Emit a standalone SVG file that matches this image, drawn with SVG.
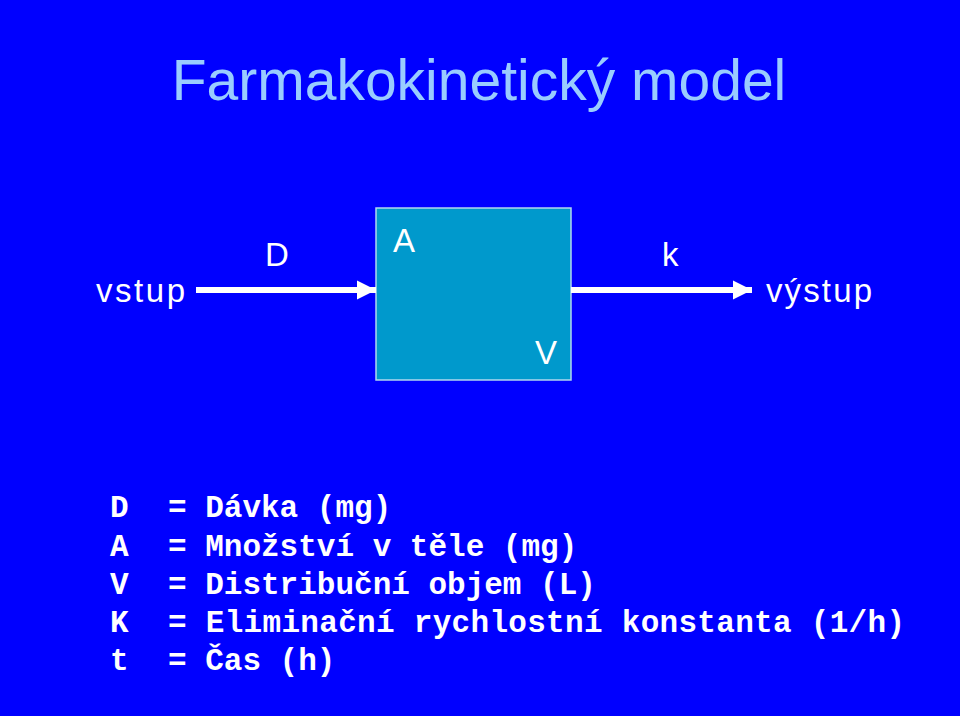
<svg xmlns="http://www.w3.org/2000/svg" width="960" height="716" viewBox="0 0 960 716">
<style>
.s{font-family:"Liberation Sans",Arial,sans-serif;fill:#fff;font-size:33px}
.m{font-family:"Liberation Mono","Courier New",monospace;font-weight:bold;fill:#fff;font-size:31px}
</style>
<defs><marker id="ah" markerWidth="3.2" markerHeight="3.2" refX="6" refY="3" orient="auto" markerUnits="strokeWidth" viewBox="0 0 6 6"><path d="M0,0L6,3L0,6z" fill="#fff"/></marker></defs>
<rect width="960" height="716" fill="#0000ff"/>
<text x="479" y="100" text-anchor="middle" font-family="Liberation Sans,Arial,sans-serif" font-size="57" fill="#99ccff">Farmakokinetický model</text>
<g id="box"><rect x="376" y="208" width="195" height="172" fill="#0099cc" stroke="#b0d8f0" stroke-width="1.5"/>
<text class="s" x="393" y="252">A</text><text class="s" x="535" y="364">V</text></g>
<g id="connectors" stroke="#fff" stroke-width="6" fill="none">
<line x1="196" y1="290" x2="376" y2="290" marker-end="url(#ah)"/>
<line x1="571" y1="290" x2="752" y2="290" marker-end="url(#ah)"/>
</g>
<text class="s" x="96" y="302" textLength="89">vstup</text>
<text class="s" x="265" y="266">D</text>
<text class="s" x="662" y="266">k</text>
<text class="s" x="766" y="302" textLength="106">výstup</text>
<g id="legend">
<text class="m" x="110" y="517">D</text><text class="m" x="168" y="517">= Dávka (mg)</text>
<text class="m" x="110" y="556">A</text><text class="m" x="168" y="556">= Množství v těle (mg)</text>
<text class="m" x="110" y="594">V</text><text class="m" x="168" y="594">= Distribuční objem (L)</text>
<text class="m" x="110" y="632">K</text><text class="m" x="168" y="632" textLength="737">= Eliminační rychlostní konstanta (1/h)</text>
<text class="m" x="110" y="670">t</text><text class="m" x="168" y="670">= Čas (h)</text>
</g>
</svg>
